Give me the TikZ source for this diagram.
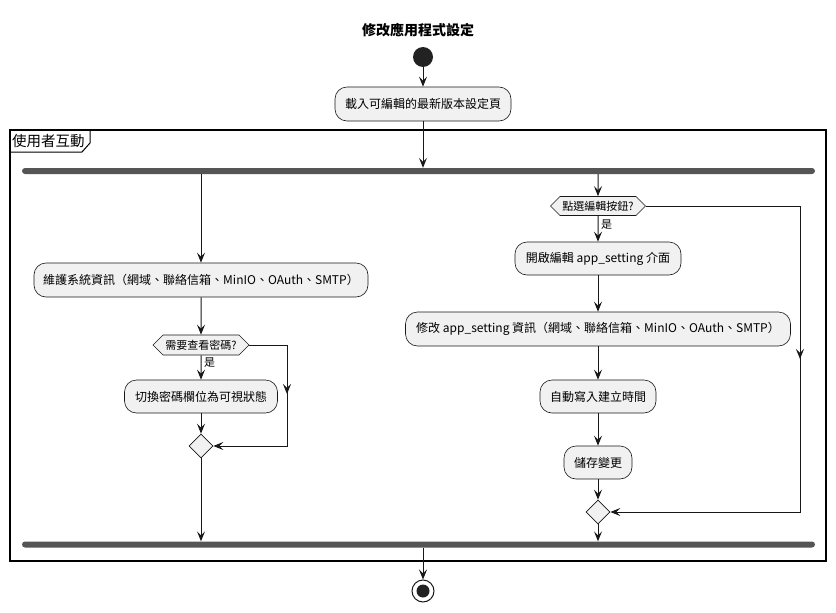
\documentclass[tikz,border=0pt]{standalone}
\usepackage{fontspec}
\setmainfont{Noto Sans CJK TC}
\usetikzlibrary{arrows.meta,shapes.geometric,shapes.symbols,calc}

\definecolor{boxfill}{HTML}{F1F1F1}
\definecolor{edge}{HTML}{181818}
\definecolor{barcol}{HTML}{555555}
\definecolor{dot}{HTML}{222222}

\begin{document}
\begin{tikzpicture}[x=1pt,y=-1pt,
  act/.style={draw=edge, line width=0.6pt, fill=boxfill, rounded corners=12pt,
    inner sep=0pt, font=\fontsize{12}{14}\selectfont, minimum height=34pt},
  cond/.style={draw=edge, line width=0.6pt, fill=boxfill, shape=signal,
    signal to=west and east, signal pointer angle=90, inner sep=0pt,
    minimum height=20pt, font=\fontsize{11}{13}\selectfont},
  merge/.style={draw=edge, line width=0.6pt, fill=boxfill, diamond,
    minimum width=24pt, minimum height=24pt, inner sep=0pt},
  barnode/.style={fill=barcol, rounded corners=3pt, minimum width=793pt,
    minimum height=6pt, inner sep=0pt},
  flow/.style={draw=edge, line width=1pt, -{Stealth[length=10pt,width=8pt,inset=4pt]}},
  plain/.style={draw=edge, line width=1pt},
  yes/.style={font=\fontsize{11}{13}\selectfont, anchor=west, inner sep=0pt}
]
\useasboundingbox (0,0) rectangle (836,613);

% title
\node[font=\bfseries\fontsize{14}{16}\selectfont] (title) at (418,30) {修改應用程式設定};

% start and first action
\node[circle, fill=dot, minimum size=20pt, inner sep=0pt] (start) at (423,57) {};
\node[act, minimum width=176pt] (load) at (423,104) {載入可編輯的最新版本設定頁};

% partition frame with its name tab
\draw[line width=1.5pt] (10,130) rectangle (826,561);
\draw[line width=1pt] (10,152) -- (82,152) -- (90,143) -- (90,130);
\node[font=\fontsize{14.5}{17}\selectfont, anchor=west, inner sep=0pt] (part) at (12,141) {使用者互動};

% fork / join bars
\node[barnode] (fork) at (418.5,171) {};
\node[barnode] (join) at (418.5,544.5) {};

% left branch
\node[act, minimum width=334pt] (m1) at (201,280) {維護系統資訊（網域、聯絡信箱、MinIO、OAuth、SMTP）};
\node[cond, minimum width=96pt] (h1) at (201,345) {需要查看密碼?};
\node[act, minimum width=153pt, minimum height=33pt] (t1) at (201,396.5) {切換密碼欄位為可視狀態};
\node[merge] (d1) at (201,446) {};
\coordinate (lb1) at (287,345);
\coordinate (lbm) at (287,394);
\coordinate (lb2) at (287,446);

% right branch
\node[cond, minimum width=95pt, minimum height=19pt] (h2) at (598,206) {點選編輯按鈕?};
\node[act, minimum width=166pt, minimum height=33pt] (r1) at (598,258.5) {開啟編輯 app\_setting 介面};
\node[act, minimum width=385pt] (r2) at (598,329) {修改 app\_setting 資訊（網域、聯絡信箱、MinIO、OAuth、SMTP）};
\node[act, minimum width=116pt, minimum height=33pt] (r3) at (598,396.5) {自動寫入建立時間};
\node[act, minimum width=68pt, minimum height=33pt] (r4) at (598,462.5) {儲存變更};
\node[merge] (d2) at (598,512) {};
\coordinate (rb1) at (800,206);
\coordinate (rbm) at (800,359);
\coordinate (rb2) at (800,512);

% end
\node[circle, draw=edge, line width=1pt, fill=white, minimum size=22pt, inner sep=0pt,
  path picture={\fill[dot] (path picture bounding box.center) circle (6.5pt);}] (stop) at (423,591) {};

% connectors
\draw[flow] (start) -- (load);
\draw[flow] (load) -- (load |- fork.north);

\draw[flow] (fork.south -| m1) -- (m1);
\draw[flow] (m1) -- (h1);
\draw[flow] (h1) -- (t1);
\node[yes] (yes1) at (204,363) {是};
\draw[flow] (t1) -- (d1);
\draw[plain] (h1.east) -- (lb1) -- (lbm);
\draw[flow] (lb1) -- (lbm);
\draw[flow] (lbm) -- (lb2) -- (d1.east);
\draw[flow] (d1) -- (d1 |- join.north);

\draw[flow] (fork.south -| h2) -- (h2);
\draw[flow] (h2) -- (r1);
\node[yes] (yes2) at (601,225) {是};
\draw[flow] (r1) -- (r2);
\draw[flow] (r2) -- (r3);
\draw[flow] (r3) -- (r4);
\draw[flow] (r4) -- (d2);
\draw[plain] (h2.east) -- (rb1) -- (rbm);
\draw[flow] (rb1) -- (rbm);
\draw[flow] (rbm) -- (rb2) -- (d2.east);
\draw[flow] (d2) -- (d2 |- join.north);

\draw[flow] (join.south -| load) -- (stop);
\end{tikzpicture}
\end{document}
